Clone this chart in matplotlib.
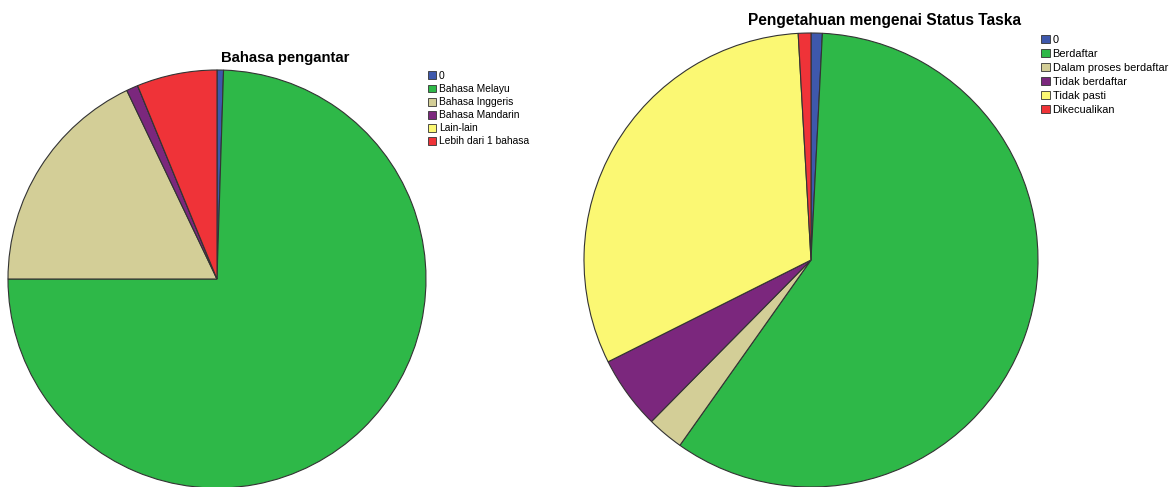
import matplotlib.pyplot as plt
from matplotlib.patches import Patch

plt.rcParams['font.family'] = ['Liberation Sans', 'DejaVu Sans']

colors = ['#3E58AC', '#2EB848', '#D3CE97', '#7B277D', '#FBF873', '#EF3338']

bahasa_labels = ['0', 'Bahasa Melayu', 'Bahasa Inggeris', 'Bahasa Mandarin',
                 'Lain-lain', 'Lebih dari 1 bahasa']
bahasa_values = [0.5, 74.5, 17.9, 0.9, 0.0, 6.2]

status_labels = ['0', 'Berdaftar', 'Dalam proses berdaftar', 'Tidak berdaftar',
                 'Tidak pasti', 'Dikecualikan']
status_values = [0.8, 59.0, 2.6, 5.2, 31.5, 0.9]


def draw_pie(fig, rect, values, labels):
    ax = fig.add_axes(rect)
    ax.pie(values, colors=colors, startangle=90, counterclock=False,
           wedgeprops=dict(edgecolor='#333333', linewidth=0.8))
    ax.set_xlim(-1.0, 1.0)
    ax.set_ylim(-1.0, 1.0)
    ax.set_aspect('equal')
    ax.axis('off')
    return ax


fig = plt.figure(figsize=(11.73, 4.87), dpi=100)

W, H = 1173.0, 487.0
# left pie: center (217, 279), radius 209
draw_pie(fig, [8 / W, (H - 488) / H, 418 / W, 418 / H], bahasa_values, bahasa_labels)
# right pie: center (811, 260), radius 227
draw_pie(fig, [584 / W, (H - 487) / H, 454 / W, 454 / H], status_values, status_labels)

fig.text(285 / W, 1 - 58 / H, 'Bahasa pengantar', ha='center', va='center',
         fontsize=10.7, fontweight='bold')
fig.text(885 / W, 1 - 20 / H, 'Pengetahuan mengenai Status Taska', ha='center',
         va='center', fontsize=11.2, fontweight='bold')


def add_legend(labels, x, y, size, spacing):
    handles = [Patch(facecolor=c, edgecolor='#333333', linewidth=0.6) for c in colors]
    fig.legend(handles, labels, loc='upper left', bbox_to_anchor=(x / W, 1 - y / H),
               frameon=False, fontsize=size, handlelength=0.8, handleheight=0.8,
               handletextpad=0.25, labelspacing=spacing, borderpad=0, borderaxespad=0)


add_legend(bahasa_labels, 428, 71, 7.4, 0.3)
add_legend(status_labels, 1041, 35, 7.9, 0.36)

fig.savefig('out.png', dpi=100)
